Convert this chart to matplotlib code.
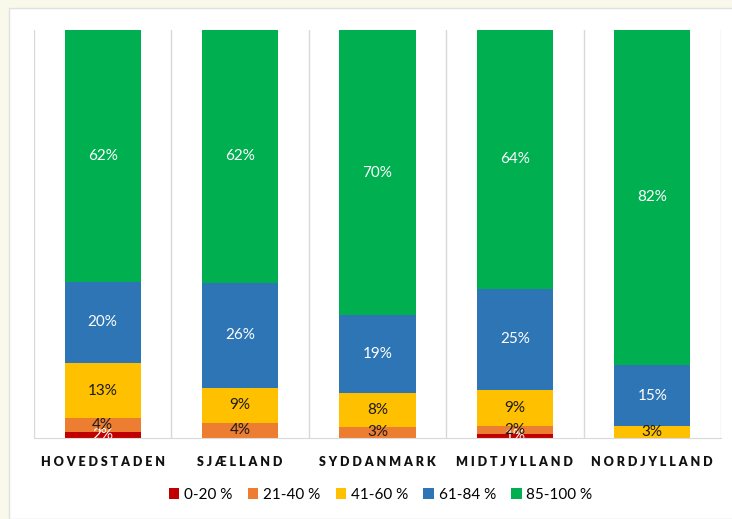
import matplotlib
matplotlib.use("Agg")
import matplotlib.pyplot as plt
import numpy as np
from matplotlib.patches import Rectangle, Patch

plt.rcParams['font.family'] = ['Lato', 'DejaVu Sans']

regions = ['HOVEDSTADEN', 'SJÆLLAND', 'SYDDANMARK', 'MIDTJYLLAND', 'NORDJYLLAND']
series = ['0-20 %', '21-40 %', '41-60 %', '61-84 %', '85-100 %']
colors = ['#C00000', '#ED7D31', '#FFC000', '#2E75B6', '#00B050']
text_colors = ['white', '#1a1a1a', '#1a1a1a', 'white', 'white']

# share of each region (per cent)
v_0_20 = [1.5, 0, 0, 1, 0]
v_21_40 = [3.4, 3.7, 2.7, 2, 0]
v_41_60 = [13.5, 8.6, 8.3, 8.8, 2.9]
v_61_84 = [19.9, 25.7, 19.1, 24.8, 15]
v_85_100 = [61.8, 62, 69.9, 63.5, 82.1]
# printed labels
l_0_20 = ['2%', '', '', '1%', '']
l_21_40 = ['4%', '4%', '3%', '2%', '']
l_41_60 = ['13%', '9%', '8%', '9%', '3%']
l_61_84 = ['20%', '26%', '19%', '25%', '15%']
l_85_100 = ['62%', '62%', '70%', '64%', '82%']

values = np.array([v_0_20, v_21_40, v_41_60, v_61_84, v_85_100])
labels = [l_0_20, l_21_40, l_41_60, l_61_84, l_85_100]
values = values / values.sum(axis=0) * 100

fig = plt.figure(figsize=(7.32, 5.19), dpi=100, facecolor='#F8F8EB')
fig.patches.append(Rectangle((9 / 732, 0), 1, 1 - 8 / 519, transform=fig.transFigure,
                             facecolor='white', edgecolor='#E0E0E0', lw=1, zorder=-5))

ax = fig.add_axes([34 / 732, 1 - 438 / 519, (721 - 34) / 732, 408 / 519])
ax.set_facecolor('none')
x = np.arange(len(regions))
bottom = np.zeros(len(regions))
for i in range(len(series)):
    ax.bar(x, values[i], 0.555, bottom=bottom, color=colors[i], label=series[i], zorder=2)
    for j in range(len(regions)):
        if labels[i][j]:
            ax.text(x[j], bottom[j] + values[i][j] / 2, labels[i][j], ha='center', va='center',
                    fontsize=11, color=text_colors[i], zorder=3, clip_on=True)
    bottom += values[i]

ax.set_xlim(-0.5, len(regions) - 0.5)
ax.set_ylim(0, 100)
for b in np.arange(-0.5, len(regions), 1):
    ax.axvline(b, color='#D9D9D9', lw=1, zorder=1)
for s in ['top', 'left', 'right']:
    ax.spines[s].set_visible(False)
ax.spines['bottom'].set_color('#D9D9D9')
ax.set_yticks([])
ax.set_xticks(x)
ax.set_xticklabels([' '.join(r) for r in regions], fontsize=9, fontweight='heavy', color='#111111')
ax.tick_params(axis='x', length=0, pad=13)

handles = [Patch(facecolor=c, label=s) for c, s in zip(colors, series)]
fig.legend(handles=handles, loc='center', bbox_to_anchor=(0.52, 1 - 495 / 519), ncol=5,
           frameon=False, fontsize=11, handlelength=0.7, handleheight=0.7,
           handletextpad=0.3, columnspacing=1.0)

fig.savefig('out.png', dpi=100, facecolor=fig.get_facecolor())
